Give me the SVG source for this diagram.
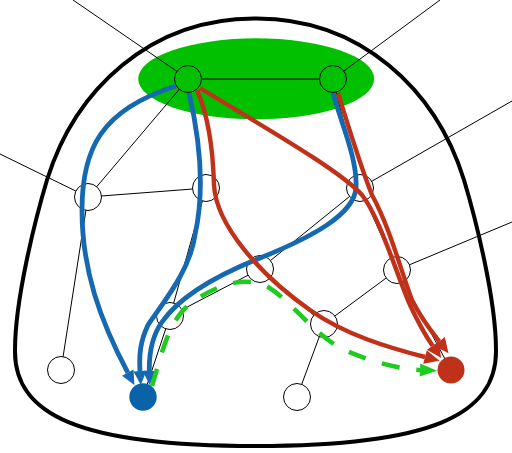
<svg xmlns="http://www.w3.org/2000/svg" width="512" height="453" viewBox="0 0 512 453">
<style>
.edge{stroke:#000;stroke-width:1;fill:none}
.node{fill:#fff;stroke:#000;stroke-width:1}
.snode{fill:#00c000;stroke:#000;stroke-width:1}
.blue{stroke:#1469b0;stroke-width:4.8;fill:none}
.red{stroke:#c0311a;stroke-width:4.4;fill:none}
.green{stroke:#1ecb1e;stroke-width:4.5;fill:none;stroke-dasharray:18 17}
</style>
<defs>
<marker id="ab" markerUnits="userSpaceOnUse" markerWidth="20" markerHeight="20" refX="0" refY="0" orient="auto" viewBox="0 -10 20 20" overflow="visible"><path d="M0,-6.5 L14,0 L0,6.5 z" fill="#1469b0"/></marker>
<marker id="ar" markerUnits="userSpaceOnUse" markerWidth="20" markerHeight="20" refX="0" refY="0" orient="auto" viewBox="0 -10 20 20" overflow="visible"><path d="M0,-7 L15,0 L0,7 z" fill="#c0311a"/></marker>
<marker id="ag" markerUnits="userSpaceOnUse" markerWidth="20" markerHeight="20" refX="0" refY="0" orient="auto" viewBox="0 -10 20 20" overflow="visible"><path d="M0,-6.5 L17,0 L0,6.5 z" fill="#1ecb1e"/></marker>
</defs>
<path id="region" d="M255.5,18.5 C150,18 75,90 47,180 C35,220 15,300 15,350 C14,415 80,446 255.5,446 C431,446 497,415 496,350 C496,300 476,220 464,180 C436,90 361,18 255.5,18.5 Z" fill="none" stroke="#000" stroke-width="4"/>
<ellipse id="source-set" cx="256.2" cy="78.8" rx="118" ry="40.5" fill="#00c000"/>
<g id="edges">
<line class="edge" x1="188" y1="79" x2="73" y2="0"/>
<line class="edge" x1="333" y1="79" x2="440" y2="0"/>
<line class="edge" x1="188" y1="79" x2="333" y2="79"/>
<line class="edge" x1="188" y1="79" x2="88" y2="197"/>
<line class="edge" x1="333" y1="79" x2="360" y2="188"/>
<line class="edge" x1="88" y1="197" x2="0" y2="154"/>
<line class="edge" x1="88" y1="197" x2="206" y2="188"/>
<line class="edge" x1="88" y1="197" x2="61" y2="370"/>
<line class="edge" x1="206" y1="188" x2="170" y2="316"/>
<line class="edge" x1="170" y1="316" x2="143" y2="397"/>
<line class="edge" x1="170" y1="316" x2="260" y2="269"/>
<line class="edge" x1="360" y1="188" x2="512" y2="101"/>
<line class="edge" x1="360" y1="188" x2="260" y2="269"/>
<line class="edge" x1="360" y1="188" x2="397" y2="270"/>
<line class="edge" x1="260" y1="269" x2="324" y2="324"/>
<line class="edge" x1="397" y1="270" x2="324" y2="324"/>
<line class="edge" x1="397" y1="270" x2="512" y2="222"/>
<line class="edge" x1="397" y1="270" x2="451" y2="370"/>
<line class="edge" x1="324" y1="324" x2="297" y2="397"/>
</g>
<g id="nA"><circle class="snode" cx="188" cy="79" r="13.5"/></g>
<g id="nB"><circle class="snode" cx="333" cy="79" r="13.5"/></g>
<g id="nC"><circle class="node" cx="88" cy="197" r="13.5"/></g>
<g id="nD"><circle class="node" cx="206" cy="188" r="13.5"/></g>
<g id="nE"><circle class="node" cx="360" cy="188" r="13.5"/></g>
<g id="nF"><circle class="node" cx="260" cy="269" r="13.5"/></g>
<g id="nG"><circle class="node" cx="397" cy="270" r="13.5"/></g>
<g id="nH"><circle class="node" cx="170" cy="316" r="13.5"/></g>
<g id="nI"><circle class="node" cx="324" cy="324" r="13.5"/></g>
<g id="nJ"><circle class="node" cx="61" cy="370" r="13.5"/></g>
<g id="nK"><circle class="node" cx="297" cy="397" r="13.5"/></g>
<g id="paths">
<path class="blue" marker-end="url(#ab)" d="M176,86 C100,110 82,150 82,210 C82,270 100,320 127.8,372.6"/>
<path class="blue" marker-end="url(#ab)" d="M189,93 C200,140 205,190 195,235 C190,270 165,300 148,325 C140,342 139,355 140,371"/>
<path class="blue" marker-end="url(#ab)" d="M333,93 C340,120 358,160 356,188 C354,215 310,238 260,258 C215,276 180,296 162,322 C152,336 149,352 149.3,371"/>
<path class="red" marker-end="url(#ar)" d="M197,90 C208,115 213,150 214,185 C216,225 260,275 310,310 C345,335 390,348 425,357"/>
<path class="red" marker-end="url(#ar)" d="M200,88 C260,125 340,170 362,195 C380,218 395,270 410,305 C418,322 425,335 432.6,345.8"/>
<path class="red" marker-end="url(#ar)" d="M338,93 C348,125 360,165 372,195 C390,228 400,268 412,300 C422,320 432,332 439.3,341.4"/>
<path class="green" marker-end="url(#ag)" d="M152,386 C160,360 168,320 190,304 C215,285 245,275 268,287 C290,300 310,330 340,348 C370,362 400,369 420,370"/>
</g>
<g id="target-blue"><circle cx="143" cy="397" r="13.7" fill="#0a63a8"/></g>
<g id="target-red"><circle cx="451" cy="370" r="13.5" fill="#c0311a"/></g>
</svg>
